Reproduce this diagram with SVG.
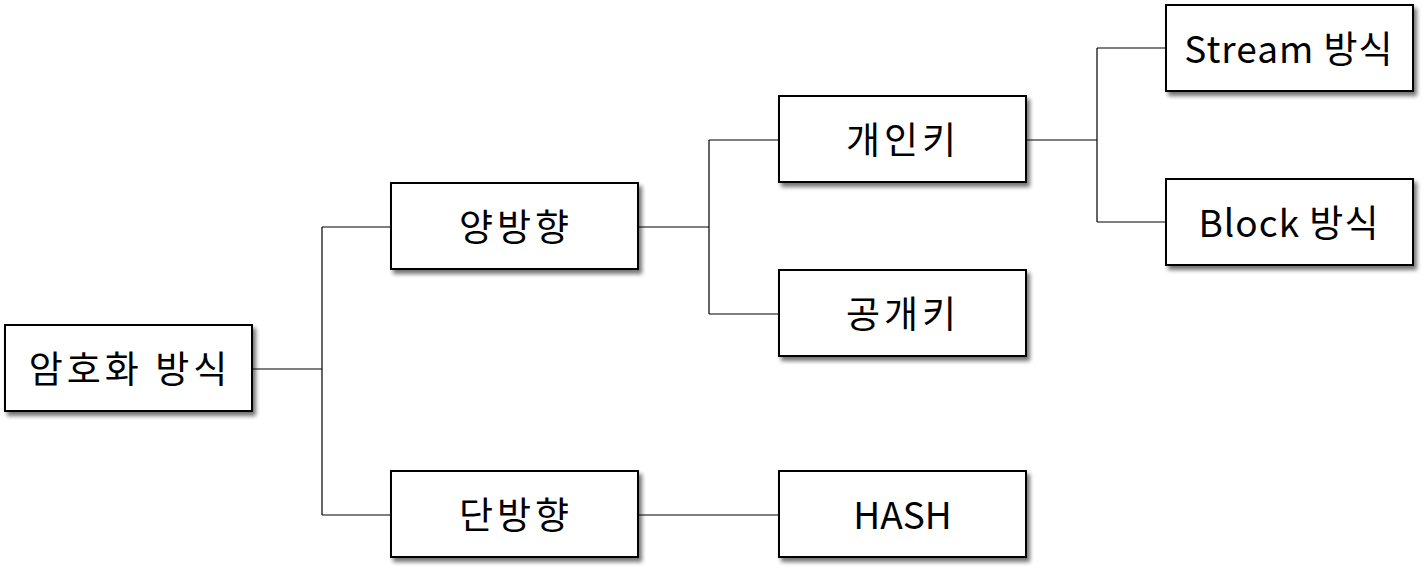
<svg xmlns="http://www.w3.org/2000/svg" width="1428" height="573" viewBox="0 0 1428 573">
<style>
.box{fill:#fff;stroke:#000;stroke-width:2}
.lbl{font-family:"Noto Sans CJK KR","Noto Sans",sans-serif;font-size:37px;fill:#000;text-anchor:middle;dominant-baseline:central}
.ko{letter-spacing:4px}
.mix{letter-spacing:1px}
.conn{fill:none;stroke:#000;stroke-width:1.2}
</style>
<defs>
<filter id="sh" x="-10%" y="-10%" width="130%" height="140%">
<feGaussianBlur in="SourceAlpha" stdDeviation="2"/>
<feOffset dx="3" dy="4" result="b"/>
<feComponentTransfer><feFuncA type="linear" slope="0.55"/></feComponentTransfer>
<feMerge><feMergeNode/><feMergeNode in="SourceGraphic"/></feMerge>
</filter>
</defs>
<rect width="1428" height="573" fill="#fff"/>
<g id="connectors">
<path class="conn" d="M252,369H322M322,227V515M322,227H391M322,515H391"/>
<path class="conn" d="M638,227H709M709,140V314M709,140H779M709,314H779"/>
<path class="conn" d="M1026,140H1097M1097,48V222M1097,48H1166M1097,222H1166"/>
<path class="conn" d="M638,515H779"/>
</g>
<g id="n-root"><rect class="box" filter="url(#sh)" x="5" y="325" width="247" height="86"/><text class="lbl ko" x="130" y="367">암호화 방식</text></g>
<g id="n-bi"><rect class="box" filter="url(#sh)" x="391" y="183" width="247" height="86"/><text class="lbl ko" x="516" y="225">양방향</text></g>
<g id="n-uni"><rect class="box" filter="url(#sh)" x="391" y="471" width="247" height="86"/><text class="lbl ko" x="516" y="513">단방향</text></g>
<g id="n-priv"><rect class="box" filter="url(#sh)" x="779" y="96" width="247" height="86"/><text class="lbl ko" x="903" y="138">개인키</text></g>
<g id="n-pub"><rect class="box" filter="url(#sh)" x="779" y="270" width="247" height="86"/><text class="lbl ko" x="903" y="312">공개키</text></g>
<g id="n-hash"><rect class="box" filter="url(#sh)" x="779" y="471" width="247" height="86"/><text class="lbl" x="902.5" y="513">HASH</text></g>
<g id="n-stream"><rect class="box" filter="url(#sh)" x="1166" y="5" width="247" height="86"/><text class="lbl mix" x="1289" y="47">Stream 방식</text></g>
<g id="n-block"><rect class="box" filter="url(#sh)" x="1166" y="179" width="247" height="86"/><text class="lbl mix" x="1289" y="221">Block 방식</text></g>
</svg>
